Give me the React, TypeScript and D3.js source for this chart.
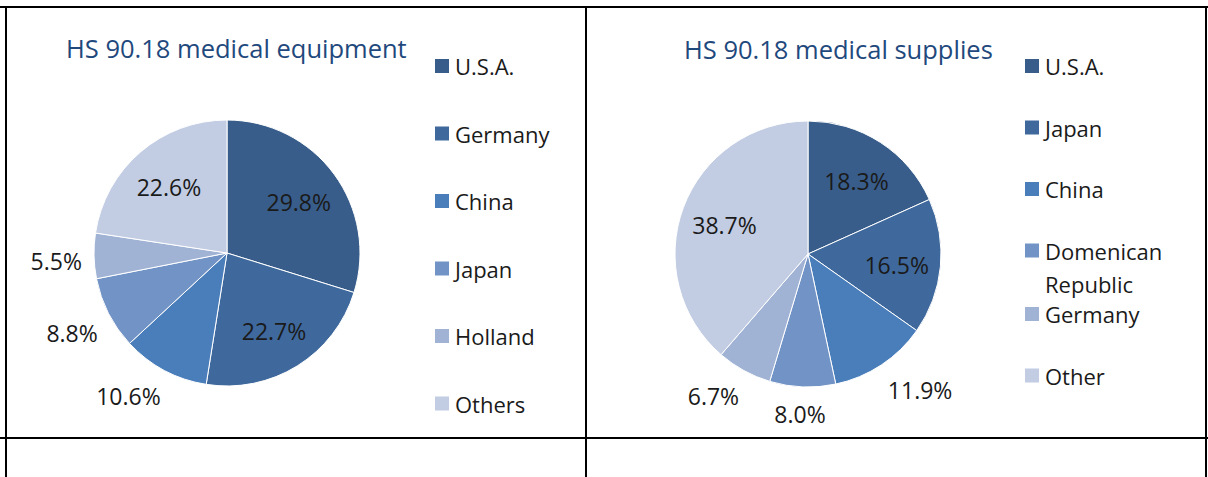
import React from "react";
import * as d3 from "d3";

// ---- Data ----
const equipmentTitle = "HS 90.18 medical equipment";
const equipmentCountries = ["U.S.A.", "Germany", "China", "Japan", "Holland", "Others"];
const equipmentShares = [29.8, 22.7, 10.6, 8.8, 5.5, 22.6];

const suppliesTitle = "HS 90.18 medical supplies";
const suppliesCountries = ["U.S.A.", "Japan", "China", "Domenican Republic", "Germany", "Other"];
const suppliesShares = [18.3, 16.5, 11.9, 8.0, 6.7, 38.7];

// ---- Styles ----
const sliceColors = ["#385D8A", "#3F699D", "#4A7EBB", "#7293C6", "#A1B3D5", "#C2CDE3"];
const FONT = "'Open Sans', 'DejaVu Sans', sans-serif";
const TITLE_COLOR = "#1F497D";
const TEXT_COLOR = "#1a1a1a";

type PanelProps = {
  title: string;
  titleX: number;
  titleY: number;
  cx: number;
  cy: number;
  r: number;
  names: string[];
  values: number[];
  legendX: number;
  legendY: number;
  legendStep: number;
  wrapExtra: number;
};

const clamp = (v: number) => Math.max(-1, Math.min(1, v));

function PiePanel(p: PanelProps) {
  const pie = d3
    .pie<number>()
    .sort(null)
    .value((d) => d)
    .startAngle(0)
    .endAngle(2 * Math.PI);
  const arcs = pie(p.values);
  const arc = d3.arc<d3.PieArcDatum<number>>().innerRadius(0).outerRadius(p.r);
  const labelFs = 23;

  let extra = 0;
  return (
    <g>
      <text
        x={p.titleX}
        y={p.titleY}
        fontFamily={FONT}
        fontSize={25.5}
        fill={TITLE_COLOR}
      >
        {p.title}
      </text>
      <g transform={`translate(${p.cx},${p.cy})`}>
        {arcs.map((a, i) => (
          <path key={i} d={arc(a) || ""} fill={sliceColors[i]} stroke="#ffffff" strokeWidth={1} />
        ))}
        {arcs.map((a, i) => {
          const mid = (a.startAngle + a.endAngle) / 2;
          const s = Math.sin(mid);
          const c = Math.cos(mid);
          const label = a.data.toFixed(1) + "%";
          let x: number, y: number;
          if (a.data >= 12) {
            const rr = p.r * 0.67;
            x = rr * s;
            y = -rr * c + 2;
          } else {
            const rr = p.r + 12;
            const w = label.length * 0.56 * labelFs;
            const h = 22;
            x = rr * s + clamp(2 * s) * (w / 2);
            y = -rr * c - clamp(2 * c) * (h / 2) + 4;
          }
          return (
            <text
              key={"l" + i}
              x={x}
              y={y}
              textAnchor="middle"
              dominantBaseline="central"
              fontFamily={FONT}
              fontSize={labelFs}
              fill={TEXT_COLOR}
            >
              {label}
            </text>
          );
        })}
      </g>
      <g>
        {p.names.map((n, i) => {
          const y = p.legendY + i * p.legendStep + extra;
          const words = n.split(" ");
          const wrapped = words.length > 1 && n.length > 12;
          if (wrapped) extra += p.wrapExtra;
          return (
            <g key={"g" + i}>
              <rect x={p.legendX} y={y - 7} width={14} height={14} fill={sliceColors[i]} />
              {wrapped ? (
                <text fontFamily={FONT} fontSize={22} fill={TEXT_COLOR}>
                  <tspan x={p.legendX + 20} y={y} dominantBaseline="central">
                    {words[0]}
                  </tspan>
                  <tspan x={p.legendX + 20} y={y + 33} dominantBaseline="central">
                    {words.slice(1).join(" ")}
                  </tspan>
                </text>
              ) : (
                <text
                  x={p.legendX + 20}
                  y={y}
                  dominantBaseline="central"
                  fontFamily={FONT}
                  fontSize={22}
                  fill={TEXT_COLOR}
                >
                  {n}
                </text>
              )}
            </g>
          );
        })}
      </g>
    </g>
  );
}

export default function App() {
  const W = 1208;
  const H = 477;
  return (
    <svg
      width={W}
      height={H}
      style={{ position: "absolute", left: 0, top: 0, background: "#ffffff" }}
    >
      <rect x={0} y={0} width={W} height={H} fill="#ffffff" />
      <PiePanel
        title={equipmentTitle}
        titleX={66}
        titleY={58}
        cx={227}
        cy={253}
        r={133}
        names={equipmentCountries}
        values={equipmentShares}
        legendX={435}
        legendY={66}
        legendStep={67.5}
        wrapExtra={0}
      />
      <PiePanel
        title={suppliesTitle}
        titleX={684}
        titleY={59}
        cx={808}
        cy={254}
        r={133}
        names={suppliesCountries}
        values={suppliesShares}
        legendX={1025}
        legendY={66}
        legendStep={61.5}
        wrapExtra={2}
      />
      {/* table borders */}
      <line x1={0} x2={W} y1={7} y2={7} stroke="#000" strokeWidth={2} />
      <line x1={0} x2={W} y1={438} y2={438} stroke="#000" strokeWidth={2} />
      <line x1={6} x2={6} y1={6} y2={H} stroke="#000" strokeWidth={2} />
      <line x1={586} x2={586} y1={6} y2={H} stroke="#000" strokeWidth={2} />
      <line x1={1206} x2={1206} y1={6} y2={H} stroke="#000" strokeWidth={2} />
    </svg>
  );
}
